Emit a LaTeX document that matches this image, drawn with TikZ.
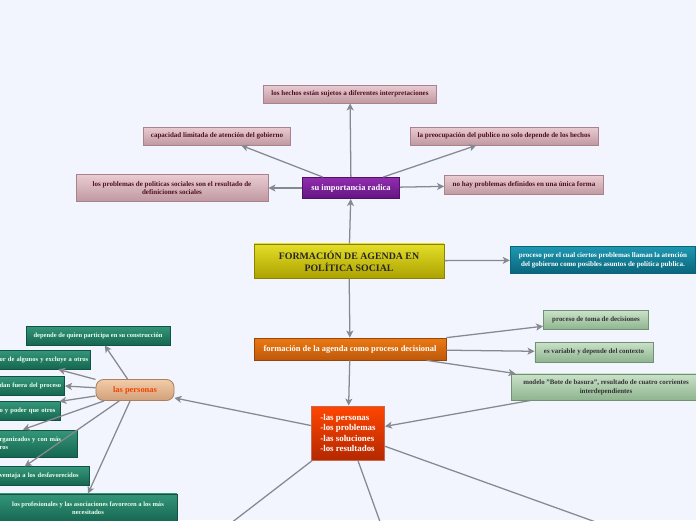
\documentclass[tikz,border=0pt]{standalone}
\usepackage{fontspec}
\setmainfont{Liberation Serif}
\usetikzlibrary{arrows.meta}
\definecolor{fondo}{RGB}{242,245,253}
\definecolor{gris}{RGB}{135,137,145}
\definecolor{rosaA}{RGB}{234,204,210}
\definecolor{rosaB}{RGB}{192,152,160}
\definecolor{rosaBorde}{RGB}{168,130,140}
\definecolor{rosaTexto}{RGB}{80,15,35}
\definecolor{moradoA}{RGB}{145,45,175}
\definecolor{moradoB}{RGB}{100,20,130}
\definecolor{amarilloA}{RGB}{228,222,40}
\definecolor{amarilloB}{RGB}{172,162,0}
\definecolor{tealA}{RGB}{30,152,178}
\definecolor{tealB}{RGB}{10,100,122}
\definecolor{naranjaA}{RGB}{236,122,20}
\definecolor{naranjaB}{RGB}{190,88,10}
\definecolor{verdeA}{RGB}{202,226,202}
\definecolor{verdeB}{RGB}{142,180,142}
\definecolor{rojoA}{RGB}{255,70,0}
\definecolor{rojoB}{RGB}{180,40,0}
\definecolor{durazA}{RGB}{242,204,168}
\definecolor{durazB}{RGB}{210,160,122}
\definecolor{oscA}{RGB}{52,150,122}
\definecolor{oscB}{RGB}{22,102,80}
\tikzset{
  caja/.style={draw, line width=0.6pt, inner sep=1pt, align=center},
  rosa/.style={caja, draw=rosaBorde, top color=rosaA, bottom color=rosaB, text=rosaTexto,
    font=\fontsize{5}{6.2}\selectfont\bfseries, minimum height=12.8pt},
  morado/.style={caja, draw=moradoB!80!black, top color=moradoA, bottom color=moradoB, text=white,
    font=\fontsize{6}{7}\selectfont\bfseries},
  titulo/.style={caja, draw=amarilloB!80!black, top color=amarilloA, bottom color=amarilloB, text=black!85,
    font=\fontsize{7}{8.3}\selectfont\bfseries},
  teal/.style={caja, draw=tealB, top color=tealA, bottom color=tealB, text=white,
    font=\fontsize{5}{6.2}\selectfont\bfseries},
  naranja/.style={caja, draw=naranjaB!80!black, top color=naranjaA, bottom color=naranjaB, text=white,
    font=\fontsize{6}{7}\selectfont\bfseries},
  verde/.style={caja, draw=verdeB!80!black, top color=verdeA, bottom color=verdeB, text=black!80,
    font=\fontsize{4.9}{6.2}\selectfont\bfseries},
  rojo/.style={caja, draw=rojoB!70!white, top color=rojoA, bottom color=rojoB, text=white,
    font=\fontsize{6.3}{7.5}\selectfont\bfseries},
  durazno/.style={caja, draw=durazB!80!black, rounded corners=5.5pt, top color=durazA, bottom color=durazB,
    text=rojoA!95!black, font=\fontsize{6}{7}\selectfont\bfseries},
  oscuro/.style={caja, draw=oscB!80!black, top color=oscA, bottom color=oscB, text=white!92!green,
    font=\fontsize{4.65}{5.9}\selectfont\bfseries},
  cortado/.style={oscuro, anchor=east, align=left, inner xsep=5.7pt},
  flecha/.style={draw=gris, line width=0.9pt, -{Stealth[length=5pt,width=5pt,inset=1.3pt]}},
  linea/.style={draw=gris, line width=0.9pt}
}
\begin{document}
\begin{tikzpicture}[x=0.025cm,y=-0.025cm]
\useasboundingbox[fill=fondo] (0,0) rectangle (696,520);
%nodos de arriba
\node[rosa, minimum width=123pt] (hechos) at (350,94) {los hechos están sujetos a diferentes interpretaciones};
\node[rosa, minimum width=104.5pt] (capacidad) at (217,136) {capacidad limitada de atención del gobierno};
\node[rosa, minimum width=133.7pt] (preocupa) at (504,136) {la preocupación del publico no solo depende de los hechos};
\node[rosa, minimum width=136.5pt, minimum height=19.2pt] (definic) at (172,188) {los problemas de politicas sociales son el resultado de\\definiciones sociales};
\node[rosa, minimum width=113pt, minimum height=13.5pt] (unica) at (524,185) {no hay problemas definidos en una única forma};
\node[morado, minimum width=69pt, minimum height=15pt] (importa) at (351,188) {su importancia radica};
%nodo central
\node[titulo, minimum width=135pt, minimum height=24.2pt] (agenda) at (349,261) {FORMACIÓN DE AGENDA EN\\POLÍTICA SOCIAL};
\node[teal, minimum width=132pt, minimum height=19.2pt] (proceso) at (603,260) {proceso por el cual ciertos problemas llaman la atención\\del gobierno como posibles asuntos de política publica.};
%agenda como proceso decisional
\node[naranja, minimum width=136.5pt, minimum height=15.6pt] (decisional) at (350,349) {formación de la agenda como proceso decisional};
\node[verde, minimum width=74.7pt, minimum height=13.5pt] (toma) at (596,320) {proceso de toma de decisiones};
\node[verde, minimum width=84pt, minimum height=14.2pt] (contexto) at (594,352) {es variable y depende del contexto};
\node[verde, minimum width=134pt, minimum height=18.5pt] (basura) at (606,387) {modelo "Bote de basura", resultado de cuatro corrientes\\interdependientes};
\node[rojo, minimum width=52pt, minimum height=38.4pt, align=left] (lista) at (348,433) {-las personas\\-los problemas\\-las soluciones\\-los resultados};
%las personas
\node[durazno, minimum width=55.5pt, minimum height=15pt] (personas) at (135,390) {las personas};
\node[oscuro, minimum width=102.4pt, minimum height=13.5pt] (quien) at (98,335.5) {depende de quien participa en su construcción};
\node[cortado, text width=59pt, minimum height=13.5pt] (excluye) at (91,359.5) {\mbox{or de algunos y excluye a otros}};
\node[cortado, text width=40.5pt, minimum height=13pt] (fuera) at (65,386) {\mbox{dan fuera del proceso}};
\node[cortado, text width=37.7pt, minimum height=13pt] (poder) at (61,411) {\mbox{o y poder que otros}};
\node[cortado, text width=49.8pt, minimum height=19.2pt] (organiz) at (78,443.5) {\mbox{rganizados y con más}\\\mbox{ros}};
\node[cortado, text width=58.3pt, minimum height=13pt] (ventaja) at (90,476) {\mbox{ventaja a los desfavorecidos}};
\node[oscuro, minimum width=126.5pt, minimum height=20pt] (profes) at (88,508) {los profesionales y las asociaciones favorecen a los más\\necesitados};
%extremos fuera de la hoja
\coordinate (abajoA) at (222,530);
\coordinate (abajoB) at (383,530);
\coordinate (abajoC) at (618,530);
%conectores
\draw[flecha] (importa) -- (hechos);
\draw[flecha] (importa) -- (capacidad);
\draw[flecha] (importa) -- (preocupa);
\draw[flecha] (importa) -- (definic);
\draw[flecha] (importa) -- (unica);
\draw[flecha] (agenda) -- (importa);
\draw[flecha] (agenda) -- (proceso);
\draw[flecha] (agenda) -- (decisional);
\draw[flecha] (decisional) -- (toma);
\draw[flecha] (decisional) -- (contexto);
\draw[flecha] (decisional) -- (basura);
\draw[flecha] (decisional) -- (lista);
\draw[flecha] (basura) -- (lista);
\draw[flecha] (lista) -- (personas);
\draw[linea] (lista) -- (abajoA);
\draw[linea] (lista) -- (abajoB);
\draw[linea] (lista) -- (abajoC);
\draw[flecha] (personas) -- (quien);
\draw[flecha] (personas) -- (excluye.-30);
\draw[flecha] (personas) -- (fuera.east);
\draw[flecha] (personas) -- (poder.16);
\draw[flecha] (personas) -- (organiz.130);
\draw[flecha] (personas) -- (ventaja.149);
\draw[flecha] (personas) -- (profes.north);
\end{tikzpicture}
\end{document}
